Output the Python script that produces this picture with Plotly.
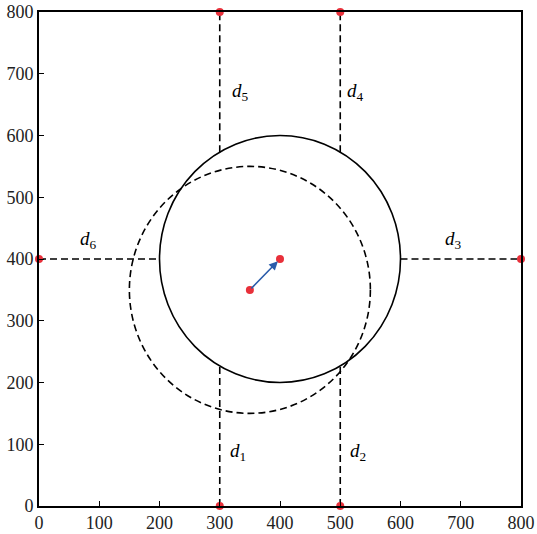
import plotly.graph_objects as go

# geometry data
solid_center = (400, 400)
dashed_center = (350, 350)
radius = 200
sensor_x = [300, 500, 300, 500, 0, 800]
sensor_y = [0, 0, 800, 800, 400, 400]
# dashed distance segments (x0, y0, x1, y1)
segments = [
    (300, 0, 300, 227), (500, 0, 500, 227),
    (300, 573, 300, 800), (500, 573, 500, 800),
    (0, 400, 200, 400), (600, 400, 800, 400),
]
label_text = ["1", "2", "3", "4", "5", "6"]
label_x = [331, 529, 688, 525, 334, 82]
label_y = [87, 87, 431, 670, 670, 431]
tick_vals = [0, 100, 200, 300, 400, 500, 600, 700, 800]

SERIF = "Times New Roman"
DASH = "7px,4px"

fig = go.Figure()

for (x0, y0, x1, y1) in segments:
    fig.add_trace(go.Scatter(x=[x0, x1], y=[y0, y1], mode="lines",
                             line=dict(color="black", width=1.6, dash=DASH),
                             showlegend=False, hoverinfo="skip"))

fig.add_shape(type="circle", xref="x", yref="y",
              x0=solid_center[0] - radius, x1=solid_center[0] + radius,
              y0=solid_center[1] - radius, y1=solid_center[1] + radius,
              line=dict(color="black", width=1.6))
fig.add_shape(type="circle", xref="x", yref="y",
              x0=dashed_center[0] - radius, x1=dashed_center[0] + radius,
              y0=dashed_center[1] - radius, y1=dashed_center[1] + radius,
              line=dict(color="black", width=1.6, dash=DASH))

fig.add_annotation(x=solid_center[0], y=solid_center[1], ax=dashed_center[0], ay=dashed_center[1],
                   xref="x", yref="y", axref="x", ayref="y", text="",
                   showarrow=True, arrowhead=2, arrowsize=1.1, arrowwidth=1.6,
                   arrowcolor="#2a5caa", standoff=3)

fig.add_trace(go.Scatter(x=sensor_x + [solid_center[0], dashed_center[0]],
                         y=sensor_y + [solid_center[1], dashed_center[1]],
                         mode="markers", marker=dict(color="#e8303a", size=8),
                         showlegend=False, hoverinfo="skip", cliponaxis=False))

for t, x, y in zip(label_text, label_x, label_y):
    fig.add_annotation(x=x, y=y, xref="x", yref="y", showarrow=False,
                       text=f"<i>d</i><sub>{t}</sub>",
                       font=dict(family=SERIF, size=19, color="black"))

axis_common = dict(range=[0, 800], tickvals=tick_vals, ticks="inside", ticklen=5,
                   tickwidth=1, tickcolor="black", showgrid=False, zeroline=False,
                   showline=True, linecolor="black", linewidth=1.6, mirror=True,
                   automargin=False,
                   tickfont=dict(family=SERIF, size=18, color="#222"))
fig.update_xaxes(**axis_common)
fig.update_yaxes(**axis_common)

fig.update_layout(width=537, height=534, margin=dict(l=39, r=16, t=12, b=28),
                  font=dict(family=SERIF),
                  plot_bgcolor="white", paper_bgcolor="white", showlegend=False)

fig.write_html("out.html", config={"displayModeBar": False},
               post_script="document.body.style.margin='0';document.body.style.overflow='hidden';")
